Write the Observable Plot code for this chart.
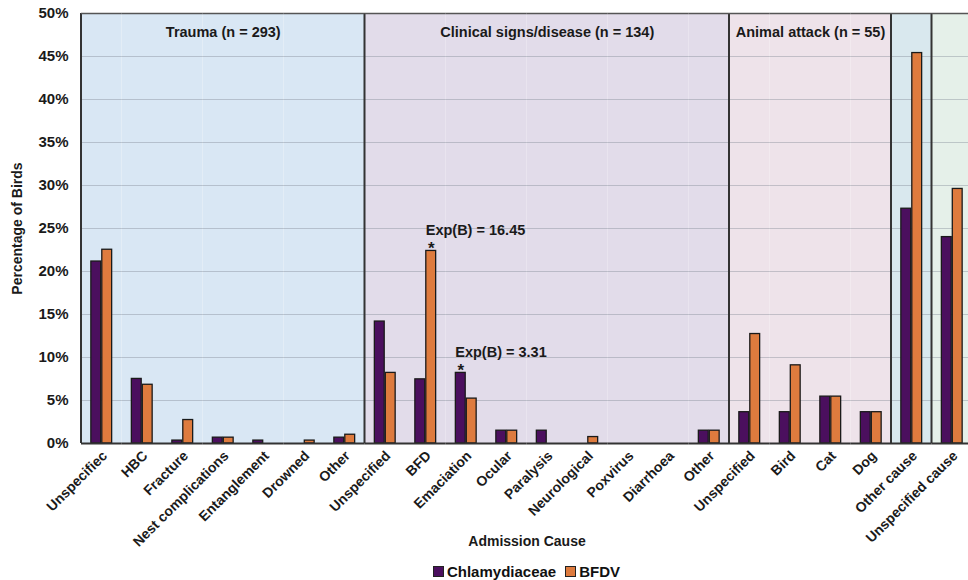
<!DOCTYPE html>
<html>
<head>
<meta charset="utf-8">
<script src="https://cdn.jsdelivr.net/npm/d3@7"></script>
<script src="https://cdn.jsdelivr.net/npm/@observablehq/plot@0.6"></script>
<style>
  html, body { margin: 0; padding: 0; overflow: hidden; background: #ffffff; }
  #chart svg { display: block; max-width: none !important; }
  .legend { display: flex; justify-content: center; align-items: center; gap: 9px;
    width: 891px; margin-left: 81px; margin-top: 3px; height: 24px;
    font: bold 15px "Liberation Sans", Arial, sans-serif; color: #111; }
  .legend .item { display: flex; align-items: center; gap: 3px; }
  .legend .sw { display: inline-block; width: 9px; height: 9px; border: 1px solid #222; }
</style>
</head>
<body>
<div id="chart"></div>
<script>
// ---- data ----
const series = ["Chlamydiaceae", "BFDV"];
const seriesColors = ["#4b0f5e", "#de7b3e"];

const groups = ["Trauma", "Clinical signs/disease", "Animal attack", "Other cause", "Unspecified cause"];
const groupLabels = ["Trauma (n = 293)", "Clinical signs/disease (n = 134)", "Animal attack (n = 55)", "", ""];
const groupColors = ["#d9e7f4", "#e2dcea", "#eee3ea", "#d9e8ee", "#e5f0e9"];

const causes = ["Unspecifiec", "HBC", "Fracture", "Nest complications", "Entanglement", "Drowned", "Other",
  "Unspecified", "BFD", "Emaciation", "Ocular", "Paralysis", "Neurological", "Poxvirus", "Diarrhoea", "Other",
  "Unspecified", "Bird", "Cat", "Dog",
  "Other cause",
  "Unspecified cause"];
const causeGroup = ["Trauma", "Trauma", "Trauma", "Trauma", "Trauma", "Trauma", "Trauma",
  "Clinical signs/disease", "Clinical signs/disease", "Clinical signs/disease", "Clinical signs/disease",
  "Clinical signs/disease", "Clinical signs/disease", "Clinical signs/disease", "Clinical signs/disease",
  "Clinical signs/disease",
  "Animal attack", "Animal attack", "Animal attack", "Animal attack",
  "Other cause",
  "Unspecified cause"];
const chlamydiaceae = [21.16, 7.51, 0.34, 0.68, 0.34, 0, 0.68,
  14.18, 7.46, 8.21, 1.49, 1.49, 0, 0, 0, 1.49,
  3.64, 3.64, 5.45, 3.64,
  27.3,
  24.0];
const bfdv = [22.53, 6.83, 2.73, 0.68, 0, 0.34, 1.02,
  8.21, 22.39, 5.22, 1.49, 0, 0.75, 0, 0, 1.49,
  12.73, 9.09, 5.45, 3.64,
  45.4,
  29.6];

const annotCauseIndex = [8, 9];
const annotSeries = ["BFDV", "Chlamydiaceae"];
const annotText = ["Exp(B) = 16.45", "Exp(B) = 3.31"];

const yTicks = [0, 5, 10, 15, 20, 25, 30, 35, 40, 45, 50];

// ---- derived tables ----
const keys = causes.map((c, i) => i + "|" + c);
const rows = [];
causes.forEach((c, i) => {
  rows.push({key: keys[i], series: series[0], value: chlamydiaceae[i]});
  rows.push({key: keys[i], series: series[1], value: bfdv[i]});
});
const annots = annotCauseIndex.map((ci, j) => ({
  key: keys[ci], series: annotSeries[j], label: annotText[j],
  value: annotSeries[j] === series[0] ? chlamydiaceae[ci] : bfdv[ci]
}));

// ---- layout ----
const W = 972, H = 556, ML = 81, MR = 0, MT = 13, MB = 113;
const bandW = (W - ML - MR) / causes.length;
const font = '"Liberation Sans", Arial, sans-serif';

const bgMarks = groups.map((g, gi) =>
  Plot.barY(keys.filter((k, i) => causeGroup[i] === g), {fx: d => d, y1: 0, y2: 50, fill: groupColors[gi]}));

const dividerKeys = groups.map(g => keys[causeGroup.indexOf(g)]);

const labelMarks = groups.map((g, gi) => {
  if (!groupLabels[gi]) return null;
  const first = causeGroup.indexOf(g);
  const count = causeGroup.filter(d => d === g).length;
  return Plot.text([groupLabels[gi]], {
    fx: () => keys[first], text: d => d, frameAnchor: "top",
    dx: (count - 1) / 2 * bandW, dy: 19, lineAnchor: "middle",
    fontSize: 14.5, fontWeight: "bold", fill: "#1a1a1a"
  });
}).filter(Boolean);

const chart = Plot.plot({
  width: W, height: H,
  marginLeft: ML, marginRight: MR, marginTop: MT, marginBottom: MB,
  style: {fontFamily: font, fontWeight: "bold", color: "#1a1a1a", background: "#ffffff", overflow: "visible", maxWidth: "none"},
  fx: {domain: keys, padding: 0, round: false, axis: null},
  x: {domain: series, axis: null, paddingInner: 0.1, paddingOuter: 0.9, round: false},
  y: {domain: [0, 50], axis: null},
  color: {domain: series, range: seriesColors},
  marks: [
    ...bgMarks,
    Plot.gridY(yTicks, {stroke: "#7f8894", strokeOpacity: 0.4, strokeWidth: 1}),
    Plot.barY(dividerKeys, {fx: d => d, y1: 0, y2: 50, fill: "#333", insetLeft: -1, insetRight: bandW - 1}),
    Plot.ruleY([50], {stroke: "#555", strokeWidth: 1.5}),
    Plot.barY(rows.filter(d => d.value > 0), {
      fx: "key", x: "series", y: "value", fill: "series", stroke: "#1a1a1a", strokeWidth: 1.3
    }),
    Plot.ruleY([0], {stroke: "#333", strokeWidth: 2}),
    ...labelMarks,
    Plot.text(annots, {fx: "key", x: "series", y: "value", text: "label", textAnchor: "start",
      dx: -5.5, dy: -21, lineAnchor: "middle", fontSize: 14.5, fontWeight: "bold", fill: "#1a1a1a"}),
    Plot.text(annots, {fx: "key", x: "series", y: "value", text: () => "*",
      dy: 3, lineAnchor: "bottom", fontSize: 17, fontWeight: "bold", fill: "#1a1a1a"}),
    Plot.axisY(yTicks, {tickFormat: d => d + "%", tickSize: 0, tickPadding: 13, label: null,
      fontSize: 15, fontWeight: "bold"}),
    Plot.axisY([], {label: "Percentage of Birds", labelAnchor: "center", labelOffset: 69, labelArrow: "none",
      tickSize: 0, fontSize: 14, fontWeight: "bold"}),
    Plot.axisFx({anchor: "bottom", tickRotate: -45, tickFormat: k => k.split("|")[1],
      tickSize: 0, tickPadding: 10, dx: 3, fontSize: 14, fontWeight: "bold",
      label: "Admission Cause", labelAnchor: "center", labelOffset: 102, labelArrow: "none"})
  ]
});
document.getElementById("chart").appendChild(chart);

// legend
const legend = document.createElement("div");
legend.className = "legend";
series.forEach((s, i) => {
  const item = document.createElement("span");
  item.className = "item";
  const sw = document.createElement("span");
  sw.className = "sw";
  sw.style.background = seriesColors[i];
  item.appendChild(sw);
  item.appendChild(document.createTextNode(s));
  legend.appendChild(item);
});
document.body.appendChild(legend);
</script>
</body>
</html>
